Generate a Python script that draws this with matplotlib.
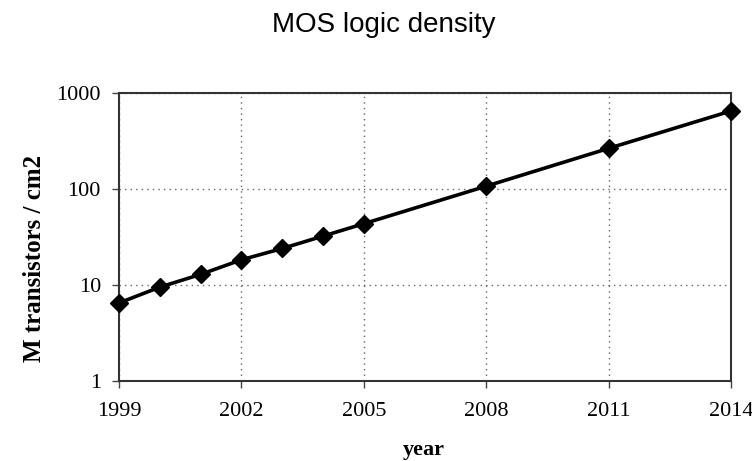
import matplotlib
matplotlib.use("Agg")
import matplotlib.pyplot as plt
from matplotlib.ticker import FixedLocator, NullLocator

years = [1999, 2000, 2001, 2002, 2003, 2004, 2005, 2008, 2011, 2014]
density = [6.5, 9.5, 12.9, 18.3, 24, 32.3, 43.5, 107, 265, 650]
xticks = [1999, 2002, 2005, 2008, 2011, 2014]
yticks = [1, 10, 100, 1000]
ytick_labels = ["1", "10", "100", "1000"]

fig = plt.figure(figsize=(7.52, 4.61), dpi=100)
ax = fig.add_axes([119/752, 1 - 381/461, (731-119)/752, (381-93)/461])

ax.plot(years, density, color="black", lw=2.6, marker="D", ms=9,
        markerfacecolor="black", markeredgecolor="black", clip_on=False, zorder=3)

ax.set_yscale("log")
ax.set_xlim(1999, 2014)
ax.set_ylim(1, 1000)
ax.xaxis.set_major_locator(FixedLocator(xticks))
ax.yaxis.set_major_locator(FixedLocator(yticks))
ax.yaxis.set_minor_locator(NullLocator())
ax.set_yticklabels(ytick_labels)
ax.set_xticklabels([str(x) for x in xticks])

serif = ["Liberation Serif", "DejaVu Serif"]
for lab in ax.get_xticklabels() + ax.get_yticklabels():
    lab.set_fontfamily(serif)
    lab.set_fontsize(16)

ax.tick_params(axis="both", direction="out", length=5, width=1, color="#444444")
ax.tick_params(axis="x", pad=10)
ax.tick_params(axis="y", pad=8)

ax.grid(True, which="major", color="#666666", linestyle=(0, (1, 3)), lw=1)
for s in ax.spines.values():
    s.set_color("#333333")
    s.set_linewidth(1.5)

fig.text(424/752, 1 - 450/461, "year", ha="center", va="center",
         fontfamily=serif, fontsize=16, fontweight="bold")
fig.text(35/752, 1 - 258/461, "M transistors / cm2", ha="center", va="center",
         rotation=90, fontfamily=serif, fontsize=18, fontweight="bold")

fig.text(384/752, 1 - 25/461, "MOS logic density", ha="center", va="center",
         fontfamily=["Liberation Sans", "DejaVu Sans"], fontsize=20)

fig.savefig("out.png", dpi=100, facecolor="white")
